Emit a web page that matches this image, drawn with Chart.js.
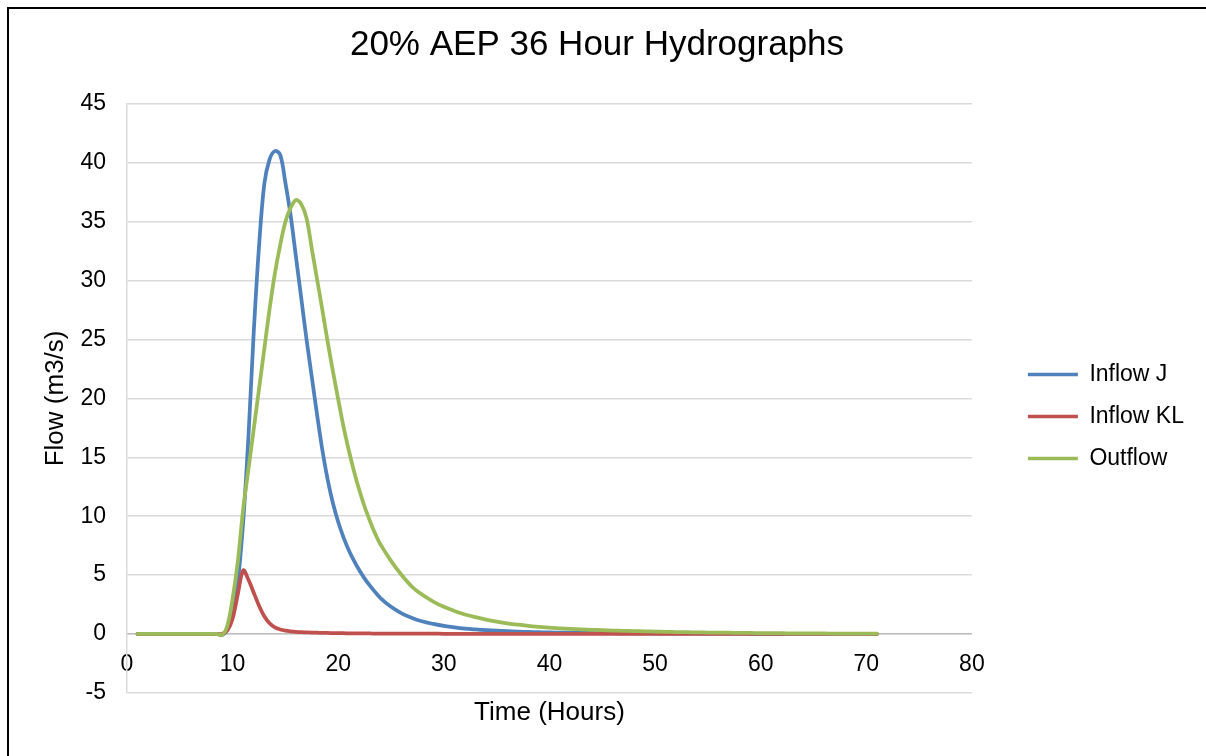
<!DOCTYPE html>
<html>
<head>
<meta charset="utf-8">
<script src="https://cdn.jsdelivr.net/npm/chart.js@4"></script>
<style>
html, body { margin: 0; padding: 0; background: #fff; }
#wrap { width: 1206px; height: 756px; }
</style>
</head>
<body>
<div id="wrap"><canvas id="c" width="1206" height="756"></canvas></div>
<script>
const chartTitle = '20% AEP 36 Hour Hydrographs';
const xTitle = 'Time (Hours)';
const yTitle = 'Flow (m3/s)';
const seriesNames = ['Inflow J', 'Inflow KL', 'Outflow'];
const seriesColors = ['#4f81bd', '#c0504d', '#9bbb59'];

const hours = [1,2,3,4,5,6,7,8,
  8.5,9,9.5,10,10.5,11,11.5,12,12.5,13,
  13.5,14,14.5,15,15.5,16,16.5,17,17.5,18,
  18.5,19,19.5,20,20.5,21,21.5,22,22.5,23,
  23.5,24,
  25,26,27,28,29,30,31,32,33,34,
  35,36,37,38,39,40,41,42,43,44,
  45,46,47,48,49,50,51,52,53,54,
  55,56,57,58,59,60,61,62,63,64,
  65,66,67,68,69,70,71];

const inflowJ = [0,0,0,0,0,0,0,0,
  0,-0.1,0.4,2.0,4.5,9.5,16.8,25.6,32.9,38.2,
  40.3,41.0,40.7,38.3,35.5,32.0,28.5,25.0,21.8,18.6,
  15.6,13.1,11.1,9.5,8.2,7.1,6.2,5.4,4.7,4.1,
  3.55,3.05,
  2.3,1.75,1.35,1.05,0.85,0.68,0.55,0.45,0.38,0.32,
  0.27,0.23,0.2,0.17,0.15,0.13,0.11,0.1,0.09,0.08,
  0.07,0.06,0.05,0.05,0.04,0.04,0.03,0.03,0.02,0.02,
  0.02,0.02,0.02,0.02,0.01,0.01,0.01,0.01,0.01,0.01,
  0.01,0,0,0,0,0,0];

const inflowKL = [0,0,0,0,0,0,0,0,
  0,0,0.3,1.3,3.4,5.4,4.6,3.5,2.4,1.5,
  0.9,0.55,0.38,0.28,0.22,0.18,0.15,0.13,0.11,0.1,
  0.09,0.08,0.07,0.06,0.06,0.05,0.05,0.04,0.04,0.04,
  0.03,0.03,
  0.03,0.02,0.02,0.02,0.02,0.01,0.01,0.01,0.01,0.01,
  0,0,0,0,0,0,0,0,0,0,
  0,0,0,0,0,0,0,0,0,0,
  0,0,0,0,0,0,0,0,0,0,
  0,0,0,0,0,0,0];

const outflow = [0,0,0,0,0,0,0,0,
  0,-0.1,0.7,3.0,6.2,10.6,14.0,17.4,20.8,24.2,
  27.6,30.6,33.0,35.0,36.2,36.85,36.5,35.3,32.7,30.1,
  27.5,24.8,22.3,19.9,17.6,15.6,13.8,12.2,10.8,9.6,
  8.5,7.6,
  6.2,5.0,4.0,3.3,2.75,2.3,1.95,1.65,1.42,1.22,
  1.05,0.9,0.78,0.68,0.6,0.53,0.48,0.43,0.39,0.35,
  0.32,0.29,0.26,0.24,0.22,0.2,0.18,0.16,0.15,0.13,
  0.12,0.11,0.1,0.09,0.08,0.07,0.06,0.06,0.05,0.05,
  0.04,0.04,0.03,0.03,0.03,0.02,0.02];

const xMin = 0, xMax = 80, xStep = 10;
const yMin = -5, yMax = 45, yStep = 5;

const FONT = "'Liberation Sans', Arial, sans-serif";
const seriesValues = [inflowJ, inflowKL, outflow];

const datasets = seriesNames.map((name, i) => ({
  label: name,
  data: hours.map((h, k) => ({x: h, y: seriesValues[i][k]})),
  borderColor: seriesColors[i],
  backgroundColor: seriesColors[i],
  borderWidth: 3.75,
  pointRadius: 0,
  pointHoverRadius: 0,
  fill: false,
  tension: 0.35,
  order: seriesNames.length - i,
  borderCapStyle: 'round',
  borderJoinStyle: 'round'
}));

const framePlugin = {
  id: 'frame',
  beforeDraw(chart) {
    const ctx = chart.ctx;
    ctx.save();
    ctx.fillStyle = '#ffffff';
    ctx.fillRect(0, 0, chart.width, chart.height);
    ctx.restore();
  },
  afterDraw(chart) {
    const ctx = chart.ctx;
    ctx.save();
    ctx.fillStyle = '#000000';
    ctx.fillRect(7, 7, chart.width - 7, 2);
    ctx.fillRect(7, 7, 2, chart.height - 7);
    ctx.restore();
  }
};

new Chart(document.getElementById('c'), {
  type: 'line',
  data: { datasets },
  plugins: [framePlugin],
  options: {
    responsive: false,
    animation: false,
    devicePixelRatio: 1,
    layout: { padding: { top: 0, left: 0, right: 12, bottom: 28 } },
    plugins: {
      title: {
        display: true,
        text: chartTitle,
        color: '#000',
        font: { family: FONT, size: 35, weight: 'normal' },
        padding: { top: 24, bottom: 38 }
      },
      legend: {
        display: true,
        position: 'right',
        fullSize: false,
        align: 'center',
        title: { display: true, text: '', font: { size: 12 }, padding: { top: 22, bottom: 0 } },
        labels: {
          color: '#000',
          font: { family: FONT, size: 23 },
          boxWidth: 50,
          boxHeight: 3.5,
          padding: 19,
          generateLabels(chart) {
            return chart.data.datasets.map((ds, i) => ({
              text: ds.label,
              fillStyle: ds.borderColor,
              strokeStyle: ds.borderColor,
              fontColor: '#000',
              lineWidth: 0,
              hidden: false,
              datasetIndex: i
            }));
          }
        }
      },
      tooltip: { enabled: false }
    },
    scales: {
      x: {
        type: 'linear',
        position: { y: 0 },
        min: xMin, max: xMax,
        ticks: { stepSize: xStep, color: '#000', font: { family: FONT, size: 23 }, padding: 17, maxRotation: 0 },
        grid: { display: false, drawTicks: false },
        border: { display: true, color: '#bfbfbf', width: 1.5 }
      },
      x2: {
        type: 'linear',
        position: 'bottom',
        min: xMin, max: xMax,
        ticks: { display: false },
        grid: { display: false, drawTicks: false },
        border: { display: false },
        title: { display: true, text: xTitle, color: '#000', font: { family: FONT, size: 26 }, padding: { top: 4, bottom: 0 } }
      },
      y: {
        type: 'linear',
        position: 'left',
        min: yMin, max: yMax,
        ticks: { stepSize: yStep, color: '#000', font: { family: FONT, size: 23 }, padding: 21 },
        grid: { color: '#d9d9d9', lineWidth: 1.5, drawTicks: false },
        border: { display: true, color: '#d9d9d9', width: 1.5 },
        title: { display: true, text: yTitle, color: '#000', font: { family: FONT, size: 26 }, padding: { top: 40, bottom: 0 } },
        afterFit(scale) { scale.width = 127; }
      },
      y2: {
        type: 'linear',
        position: 'right',
        min: yMin, max: yMax,
        ticks: { display: false },
        grid: { display: false, drawTicks: false },
        border: { display: false },
        afterFit(scale) { scale.width = 37; }
      }
    }
  }
});
</script>
</body>
</html>
